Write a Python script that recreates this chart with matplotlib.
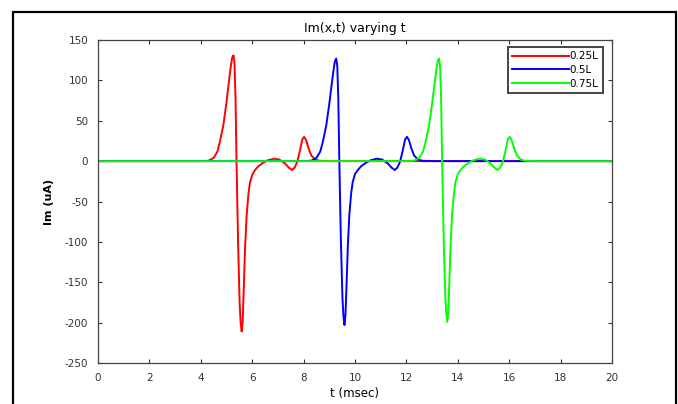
import matplotlib.pyplot as plt
from matplotlib.patches import Rectangle

plt.rcParams['font.family'] = ['DejaVu Sans']
plt.rcParams['axes.unicode_minus'] = False

# membrane current samples, one list per probe position
t_025 = [0, 4.0, 4.3, 4.5, 4.65, 4.75, 4.88, 5.0, 5.1, 5.17, 5.22, 5.27, 5.31, 5.35, 5.39,
         5.45, 5.51, 5.55, 5.59, 5.63, 5.67, 5.72, 5.78, 5.85, 5.91, 6.0, 6.11, 6.25, 6.43,
         6.6, 6.85, 7.05, 7.28, 7.42, 7.55, 7.65, 7.75, 7.85, 7.95, 8.02, 8.1,
         8.2, 8.3, 8.45, 8.6, 9.0, 20]
im_025 = [0, 0, 0.5, 4, 12, 25, 45, 73, 100, 118, 128, 131, 122, 80, 0,
          -100, -175, -200, -211, -198, -160, -110, -69, -42, -27, -17, -11, -6, -2,
          1, 3, 2, -3, -8, -11, -8, -1, 12, 27, 30, 26,
          15, 7, 2, 0.5, 0, 0]

t_050 = [0, 8.0, 8.3, 8.5, 8.65, 8.75, 8.88, 9.0, 9.1, 9.17, 9.22, 9.27, 9.31, 9.35, 9.39,
         9.45, 9.51, 9.55, 9.59, 9.63, 9.67, 9.72, 9.78, 9.85, 9.91, 10.0, 10.11, 10.25, 10.43,
         10.6, 10.85, 11.05, 11.28, 11.42, 11.55, 11.65, 11.75, 11.85, 11.95, 12.02, 12.1,
         12.2, 12.3, 12.45, 12.6, 13.0, 20]
im_050 = [0, 0, 0.5, 4, 12, 24, 44, 71, 97, 114, 124, 127, 118, 78, 0,
          -97, -168, -192, -203, -190, -154, -106, -66, -40, -26, -16, -11, -6, -2,
          1, 3, 2, -3, -8, -11, -8, -1, 12, 27, 30, 26,
          15, 7, 2, 0.5, 0, 0]

t_075 = [0, 12.0, 12.3, 12.5, 12.65, 12.75, 12.88, 13.0, 13.1, 13.17, 13.22, 13.27, 13.31, 13.35, 13.39,
         13.45, 13.51, 13.55, 13.59, 13.63, 13.67, 13.72, 13.78, 13.85, 13.91, 14.0, 14.11, 14.25, 14.43,
         14.6, 14.85, 15.05, 15.28, 15.42, 15.55, 15.65, 15.75, 15.85, 15.95, 16.02, 16.1,
         16.2, 16.3, 16.45, 16.6, 17.0, 20]
im_075 = [0, 0, 0.5, 4, 12, 24, 44, 71, 97, 114, 124, 127, 118, 78, 0,
          -95, -164, -188, -199, -187, -151, -104, -65, -40, -26, -16, -11, -6, -2,
          1, 3, 2, -3, -8, -11, -8, -1, 12, 27, 30, 26,
          15, 7, 2, 0.5, 0, 0]

x_ticks = list(range(0, 21, 2))
y_ticks = list(range(-250, 151, 50))

fig = plt.figure(figsize=(6.78, 4.04), dpi=100)
fig.patches.append(Rectangle((13 / 678, -0.05), 663 / 678, 1.05 - 12 / 404,
                             transform=fig.transFigure, fill=False,
                             edgecolor='black', linewidth=1.6))

ax = fig.add_axes([98 / 678, 41 / 404, 514 / 678, 323 / 404])
ax.plot(t_025, im_025, color='#ff0000', linewidth=1.4, label='0.25L')
ax.plot(t_050, im_050, color='#0000ff', linewidth=1.4, label='0.5L')
ax.plot(t_075, im_075, color='#00ff00', linewidth=1.4, label='0.75L')

ax.set_xlim(0, 20)
ax.set_ylim(-250, 150)
ax.set_xticks(x_ticks)
ax.set_yticks(y_ticks)
ax.tick_params(direction='in', top=True, right=True, length=3, width=0.8,
               labelsize=7.5, colors='#333333', pad=7)
for s in ax.spines.values():
    s.set_color('#444444')
    s.set_linewidth(0.9)

ax.set_title('Im(x,t) varying t', fontsize=9, pad=6)
ax.set_xlabel('t (msec)', fontsize=8.5, labelpad=3)
ax.set_ylabel('Im (uA)', fontsize=8, fontweight='bold', labelpad=8)

leg = ax.legend(loc='upper right', bbox_to_anchor=(0.983, 0.979), fontsize=7.5,
                handlelength=5.4, handletextpad=0.1, borderpad=0.45,
                labelspacing=0.35, fancybox=False, framealpha=1,
                borderaxespad=0, handleheight=0.7)
leg.get_frame().set_edgecolor('#444444')
leg.get_frame().set_linewidth(1.4)

fig.savefig('out.png', dpi=100)
